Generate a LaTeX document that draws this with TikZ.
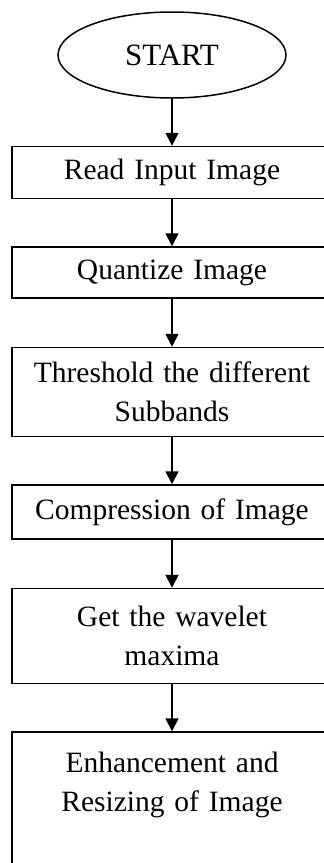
\documentclass[tikz,border=0pt]{standalone}
\usepackage{fontspec}
\setmainfont{Liberation Serif}
\usepackage{tikz}
\usetikzlibrary{shapes.geometric, arrows.meta, positioning}
\tikzset{
  stepbox/.style={
    rectangle, draw=black, line width=0.75pt, fill=white,
    minimum width=160pt, text width=155pt, align=center, inner sep=0pt,
    font=\fontsize{14.75}{19.5}\selectfont
  },
  startnode/.style={
    ellipse, draw=black, line width=0.75pt, minimum width=114pt,
    minimum height=43pt, inner sep=0pt, font=\fontsize{15.5}{19.5}\selectfont
  },
  arrow/.style={-{Triangle[length=6.5pt, width=6.5pt]}, line width=0.75pt},
}

\begin{document}
\begin{tikzpicture}[node distance=23.5pt]

  \useasboundingbox (0,0) rectangle (162pt,-431.5pt);

  % Start
  \node[startnode] (start) at (86pt,-27.5pt) {START};

  % Steps
  \node[stepbox, minimum height=26pt, below=of start] (read) {Read Input Image};
  \node[stepbox, minimum height=25.5pt, below=of read] (quant) {Quantize Image};
  \node[stepbox, minimum height=44.5pt, below=24pt of quant] (thresh)
    {Threshold the different\\Subbands};
  \node[stepbox, minimum height=27pt, below=of thresh] (comp) {Compression of Image};
  \node[stepbox, minimum height=47.5pt, below=24pt of comp] (maxima)
    {Get the wavelet\\maxima};
  \node[stepbox, minimum height=69pt, below=of maxima] (enh)
    {Enhancement and\\Resizing of Image\\ \mbox{}};

  % Arrows
  \draw[arrow] (start) -- (read);
  \draw[arrow] (read) -- (quant);
  \draw[arrow] (quant) -- (thresh);
  \draw[arrow] (thresh) -- (comp);
  \draw[arrow] (comp) -- (maxima);
  \draw[arrow] (maxima) -- (enh);

\end{tikzpicture}
\end{document}
